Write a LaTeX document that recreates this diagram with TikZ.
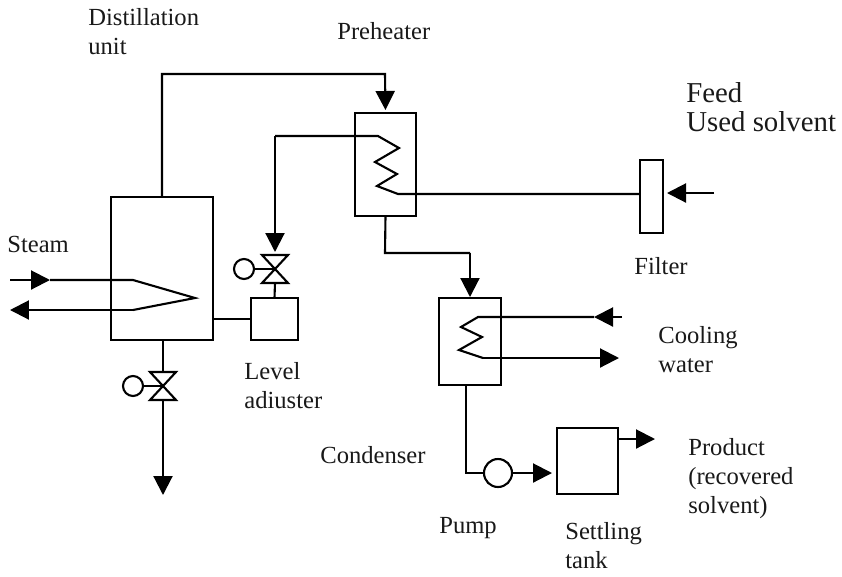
\documentclass[tikz,border=0pt]{standalone}
\usepackage{fontspec}
\setmainfont{Liberation Serif}
\usepackage{xcolor}
\usetikzlibrary{arrows.meta}

\begin{document}
\begin{tikzpicture}[
  x=0.02cm, y=-0.02cm,
  >={Triangle[length=0.38cm,width=0.38cm]},
  font=\fontsize{14}{16.4}\selectfont,
  % ---- node styles ----
  unitbox/.style={draw, line width=1.2pt, inner sep=0pt, outer sep=0pt},
  ringbox/.style={draw, circle, line width=1.2pt, inner sep=0pt, outer sep=0pt, minimum size=0.40cm},
  valvebox/.style={inner sep=0pt, outer sep=0pt, minimum width=0.52cm, minimum height=0.56cm},
  lbl/.style={anchor=north west, inner sep=0pt, align=left, text=black!90},
  % ---- line styles ----
  pipe/.style={line width=1.2pt, line join=miter},
  flow/.style={pipe, ->},
]
\useasboundingbox (0,0) rectangle (842,576);

% ---- Units ----
\node[unitbox, minimum width=2.04cm, minimum height=2.86cm] (vessel) at (162,268.5) {};
\node[unitbox, minimum width=1.22cm, minimum height=2.06cm] (preheater) at (385.5,164.5) {};
\node[unitbox, minimum width=0.46cm, minimum height=1.46cm] (filter) at (651.5,196.5) {};
\node[unitbox, minimum width=0.94cm, minimum height=0.84cm] (leveladj) at (274.5,319) {};
\node[unitbox, minimum width=1.24cm, minimum height=1.74cm] (condenser) at (470,341.5) {};
\node[unitbox, minimum width=1.22cm, minimum height=1.32cm] (tank) at (587.5,461) {};
\node[ringbox, minimum size=0.56cm] (pump) at (498,473) {};

% ---- Valves ----
\node[valvebox] (valvetop) at (275,269) {};
\node[valvebox] (valvebot) at (163,386) {};
\node[ringbox] (ringtop) at (244,269) {};
\node[ringbox] (ringbot) at (133,386) {};
\foreach \v in {valvetop,valvebot}
  \draw[pipe] (\v.north west) -- (\v.north east) -- (\v.south west) -- (\v.south east) -- cycle;
\draw[pipe] (ringtop) -- (valvetop.center);
\draw[pipe] (ringbot) -- (valvebot.center);

% ---- Free ends ----
\coordinate (elbowvap) at (385,74);
\coordinate (elbowliq) at (275,136);
\coordinate (elbowout) at (470,253);
\coordinate (elbowpre) at (385,253);
\coordinate (filterin) at (640,194);
\coordinate (feedin) at (714,193);
\coordinate (steamin) at (10,280);
\coordinate (steamtip) at (50,280);
\coordinate (steambend) at (133,280);
\coordinate (steamret) at (133,310);
\coordinate (steamout) at (10,310);
\coordinate (drain) at (163,495);
\coordinate (coolin) at (622,317);
\coordinate (cooltip) at (594,317);
\coordinate (coolturn) at (478,317);
\coordinate (coolturnb) at (483,358);
\coordinate (coolout) at (619,358);
\coordinate (pumpturn) at (466,473);
\coordinate (prodout) at (655,439);
\coordinate (tankout) at (618,439);

% ---- Distillation unit ----
\draw[flow, shorten >=0.06cm] (vessel.north) |- (elbowvap) -- (preheater.north);
\draw[flow] (steamin) -- (steamtip);
\draw[pipe] (steamtip) -- (steambend) -- (195,298) -- (steamret);
\draw[flow] (steamret) -- (steamout);
\draw[pipe] (vessel.east |- leveladj) -- (leveladj);
\draw[pipe] (leveladj.north) -- (valvetop.south);
\draw[pipe] (vessel.south -| valvebot) -- (valvebot.north);
\draw[flow] (valvebot.south) -- (drain);

% ---- Preheater ----
\draw[pipe] (filterin) -- (398,194) -- (377,186) -- (397,174) -- (375,162) -- (399,148) -- (378,136) -- (elbowliq);
\draw[flow, shorten >=0.06cm] (elbowliq) -- (valvetop.north);
\draw[flow, shorten >=0.08cm] (feedin) -- (filter.east |- feedin);
\draw[pipe] (preheater.south) -- (elbowpre) -- (elbowout);
\draw[flow, shorten >=0.02cm] (elbowout) -- (condenser.north);

% ---- Condenser ----
\draw[flow] (coolin) -- (cooltip);
\draw[pipe] (cooltip) -- (coolturn) -- (461,327) -- (482,337) -- (459,350) -- (coolturnb);
\draw[flow] (coolturnb) -- (coolout);
\draw[pipe] (condenser.south -| pumpturn) -- (pumpturn) -- (pump);
\draw[flow, shorten >=0.10cm] (pump) -- (tank.west |- pump);
\draw[flow] (tankout) -- (prodout);

% ---- Labels ----
\node[lbl] (lbldist) at (88,8) {Distillation\\unit};
\node[lbl] (lblpre) at (337,22) {Preheater};
\node[lbl, font=\fontsize{16.4}{16.4}\selectfont] (lblfeed) at (686,82) {Feed\\Used solvent};
\node[lbl] (lblsteam) at (7,236) {Steam};
\node[lbl] (lblfilter) at (634,257) {Filter};
\node[lbl] (lbllevel) at (244,362) {Level\\adiuster};
\node[lbl] (lblcool) at (658,326) {Cooling\\water};
\node[lbl] (lblcond) at (320,446) {Condenser};
\node[lbl] (lblpump) at (439,517) {Pump};
\node[lbl] (lblset) at (565,522) {Settling\\tank};
\node[lbl] (lblprod) at (688,438) {Product\\(recovered\\solvent)};

\end{tikzpicture}
\end{document}
